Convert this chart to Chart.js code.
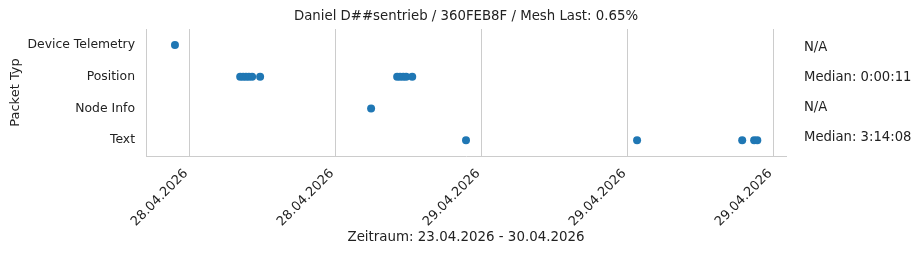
<!DOCTYPE html>
<html>
<head>
<meta charset="utf-8">
<script src="https://cdn.jsdelivr.net/npm/chart.js@4.4.1/dist/chart.umd.min.js"></script>
<style>
  html, body { margin: 0; padding: 0; background: #fff; }
  #wrap { width: 922px; height: 255px; }
</style>
</head>
<body>
<div id="wrap"><canvas id="chart" width="922" height="255"></canvas></div>
<script>
// Packet types (y categories), top to bottom
const categories = ['Device Telemetry', 'Position', 'Node Info', 'Text'];

// time in hours since 28.04.2026 00:00
const telemetryTimes = [11.42];
const positionTimes = [14.10, 14.22, 14.34, 14.46, 14.59, 14.92, 20.55, 20.67, 20.80, 20.92, 21.17];
const nodeInfoTimes = [19.48];
const textTimes = [23.38, 30.41, 34.73, 35.22, 35.35];

const tickValues = [12, 18, 24, 30, 36];
const tickLabels = ['28.04.2026', '28.04.2026', '29.04.2026', '29.04.2026', '29.04.2026'];

const medianLabels = ['N/A', 'Median: 0:00:11', 'N/A', 'Median: 3:14:08'];

const titleText = 'Daniel D##sentrieb / 360FEB8F / Mesh Last: 0.65%';
const fontFam = '"DejaVu Sans", sans-serif';

function toPoints(times, cat) {
    return times.map(t => ({ x: t, y: cat }));
}

const allPoints = []
    .concat(toPoints(telemetryTimes, categories[0]))
    .concat(toPoints(positionTimes, categories[1]))
    .concat(toPoints(nodeInfoTimes, categories[2]))
    .concat(toPoints(textTimes, categories[3]));

// title and right side median texts
const textPlugin = {
    id: 'extraText',
    afterDraw(chart) {
        const ctx = chart.ctx;
        const area = chart.chartArea;
        const h = area.bottom - area.top;
        ctx.save();
        ctx.fillStyle = '#222';
        ctx.font = '13.3px ' + fontFam;
        ctx.textAlign = 'center';
        ctx.textBaseline = 'middle';
        ctx.fillText(titleText, (area.left + area.right) / 2, 17);

        // texts spread evenly down the right side
        ctx.font = '13.2px ' + fontFam;
        ctx.textAlign = 'left';
        medianLabels.forEach((txt, i) => {
            const y = area.top + h * (0.145 + i * 0.237);
            ctx.fillText(txt, area.right + 18, y);
        });
        ctx.restore();
    }
};

new Chart(document.querySelector('#chart'), {
    type: 'scatter',
    data: {
        datasets: [{
            data: allPoints,
            backgroundColor: '#1f77b4',
            borderColor: '#1f77b4',
            pointRadius: 4,
            pointHoverRadius: 4,
            borderWidth: 0
        }]
    },
    options: {
        responsive: false,
        animation: false,
        layout: { padding: { left: 0, right: 136, top: 29, bottom: 0 } },
        plugins: {
            legend: { display: false },
            tooltip: { enabled: false },
            title: { display: false }
        },
        scales: {
            x: {
                type: 'linear',
                min: 10.23,
                max: 36.53,
                afterBuildTicks: (scale) => {
                    scale.ticks = tickValues.map(v => ({ value: v }));
                },
                afterFit: (scale) => { scale.height = 99; },
                ticks: {
                    autoSkip: false,
                    maxRotation: 45,
                    minRotation: 45,
                    padding: 10,
                    labelOffset: -3,
                    color: '#222',
                    font: { family: fontFam, size: 13 },
                    callback: (value) => {
                        const i = tickValues.indexOf(value);
                        return i >= 0 ? tickLabels[i] : '';
                    }
                },
                grid: { display: true, color: '#cccccc', lineWidth: 1, drawTicks: false },
                border: { display: true, color: '#cccccc', width: 1 },
                title: {
                    display: true,
                    text: 'Zeitraum: 23.04.2026 - 30.04.2026',
                    color: '#222',
                    font: { family: fontFam, size: 13.4 },
                    padding: { top: 4, bottom: 9 }
                }
            },
            y: {
                type: 'category',
                labels: categories,
                offset: true,
                afterFit: (scale) => { scale.width = 146; },
                ticks: {
                    padding: 11,
                    color: '#222',
                    font: { family: fontFam, size: 12.4 }
                },
                grid: { display: false, drawTicks: false },
                border: { display: true, color: '#cccccc', width: 1 },
                title: {
                    display: true,
                    text: 'Packet Typ',
                    color: '#222',
                    font: { family: fontFam, size: 13 },
                    padding: { top: 8, bottom: 4 }
                }
            }
        }
    },
    plugins: [textPlugin]
});
</script>
</body>
</html>
